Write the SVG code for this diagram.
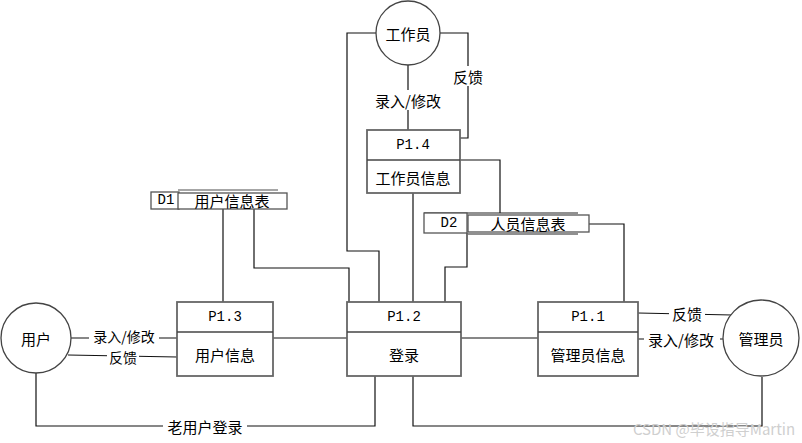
<svg xmlns="http://www.w3.org/2000/svg" width="802" height="443" viewBox="0 0 802 443">
<style>
.bg{fill:#fff}
.ent{fill:#fff;stroke:#444;stroke-width:1.3}
.box{fill:#fff;stroke:#666;stroke-width:1.8}
.div{stroke:#444;stroke-width:1.3}
.ln{fill:none;stroke:#111;stroke-width:1.2}
.st{fill:#fff;stroke:#555;stroke-width:1.3}
.t{font-family:"Noto Sans CJK SC","Noto Sans",sans-serif;font-size:15px;fill:#000;text-anchor:middle;dominant-baseline:central}
.s{font-size:14px}
.m{font-family:"Liberation Mono",monospace;font-size:14px;fill:#000;text-anchor:middle;dominant-baseline:central}
.lb{fill:#fff}
</style>
<rect class="bg" x="0" y="0" width="802" height="443"/>
<g id="connectors">
<path class="ln" d="M376,33 H347 V251 H379 V302"/>
<path class="ln" d="M408,65 V130"/>
<path class="ln" d="M440,33 H468 V138 H460"/>
<path class="ln" d="M413,193 V302"/>
<path class="ln" d="M460,160 H500 V213"/>
<path class="ln" d="M467,233 V267 H445 V302"/>
<path class="ln" d="M589,224 H624 V302"/>
<path class="ln" d="M223,209 V302"/>
<path class="ln" d="M254,209 V268 H349 V302"/>
<path class="ln" d="M273,338 H347"/>
<path class="ln" d="M461,338 H538"/>
<path class="ln" d="M71,338 H177"/>
<path class="ln" d="M68,355 L177,357"/>
<path class="ln" d="M36,373 V426 H375 V376"/>
<path class="ln" d="M413,376 V426 H762 V377"/>
<path class="ln" d="M638,313 L732,315"/>
<path class="ln" d="M638,339 H723"/>
<rect class="lb" x="370" y="90" width="76" height="20"/>
<text class="t" x="408" y="100">录入/修改</text>
<rect class="lb" x="451" y="66" width="34" height="20"/>
<text class="t" x="468" y="76">反馈</text>
<rect class="lb" x="89" y="329" width="70" height="16"/>
<text class="t s" x="124" y="336">录入/修改</text>
<rect class="lb" x="107" y="349" width="32" height="15"/>
<text class="t s" x="123" y="357">反馈</text>
<rect class="lb" x="163" y="417" width="84" height="18"/>
<text class="t" x="205" y="426">老用户登录</text>
<rect class="lb" x="669" y="304" width="36" height="18"/>
<text class="t" x="687" y="313">反馈</text>
<rect class="lb" x="644" y="330" width="76" height="18"/>
<text class="t" x="681" y="339">录入/修改</text>
</g>
<g id="worker">
<circle class="ent" cx="408" cy="33" r="32"/>
<text class="t" x="408" y="33">工作员</text>
</g>
<g id="user">
<circle class="ent" cx="36" cy="338" r="35"/>
<text class="t" x="36" y="338">用户</text>
</g>
<g id="admin">
<circle class="ent" cx="761" cy="338" r="38"/>
<text class="t" x="761" y="338">管理员</text>
</g>
<g id="p14">
<rect class="box" x="367" y="130" width="93" height="63"/>
<line class="div" x1="367" y1="160" x2="460" y2="160"/>
<text class="m" x="413" y="145">P1.4</text>
<text class="t" x="413" y="177">工作员信息</text>
</g>
<g id="p13">
<rect class="box" x="177" y="302" width="96" height="74"/>
<line class="div" x1="177" y1="332" x2="273" y2="332"/>
<text class="m" x="225" y="317">P1.3</text>
<text class="t" x="225" y="354">用户信息</text>
</g>
<g id="p12">
<rect class="box" x="347" y="302" width="114" height="74"/>
<line class="div" x1="347" y1="332" x2="461" y2="332"/>
<text class="m" x="404" y="317">P1.2</text>
<text class="t" x="404" y="354">登录</text>
</g>
<g id="p11">
<rect class="box" x="538" y="302" width="100" height="74"/>
<line class="div" x1="538" y1="332" x2="638" y2="332"/>
<text class="m" x="588" y="317">P1.1</text>
<text class="t" x="588" y="354">管理员信息</text>
</g>
<g id="d1">
<line x1="178" y1="190" x2="278" y2="190" stroke="#888" stroke-width="1.3"/>
<rect class="st" x="151" y="192" width="28" height="17"/>
<text class="m" x="166" y="200">D1</text>
<rect class="st" x="178" y="193" width="109" height="16"/>
<text class="t" x="232" y="200">用户信息表</text>
</g>
<g id="d2">
<line x1="424" y1="213" x2="578" y2="213" stroke="#222" stroke-width="1.2"/>
<line x1="468" y1="234" x2="578" y2="234" stroke="#222" stroke-width="1.2"/>
<rect class="st" x="424" y="213" width="43" height="20"/>
<text class="m" x="449" y="223">D2</text>
<rect class="st" x="468" y="215" width="121" height="17"/>
<text class="t" x="528" y="223">人员信息表</text>
</g>
<text x="714" y="428" font-family="'Noto Sans CJK SC','Noto Sans',sans-serif" font-size="15" fill="#cfcfcf" text-anchor="middle" dominant-baseline="central">CSDN @毕设指导Martin</text>
</svg>
